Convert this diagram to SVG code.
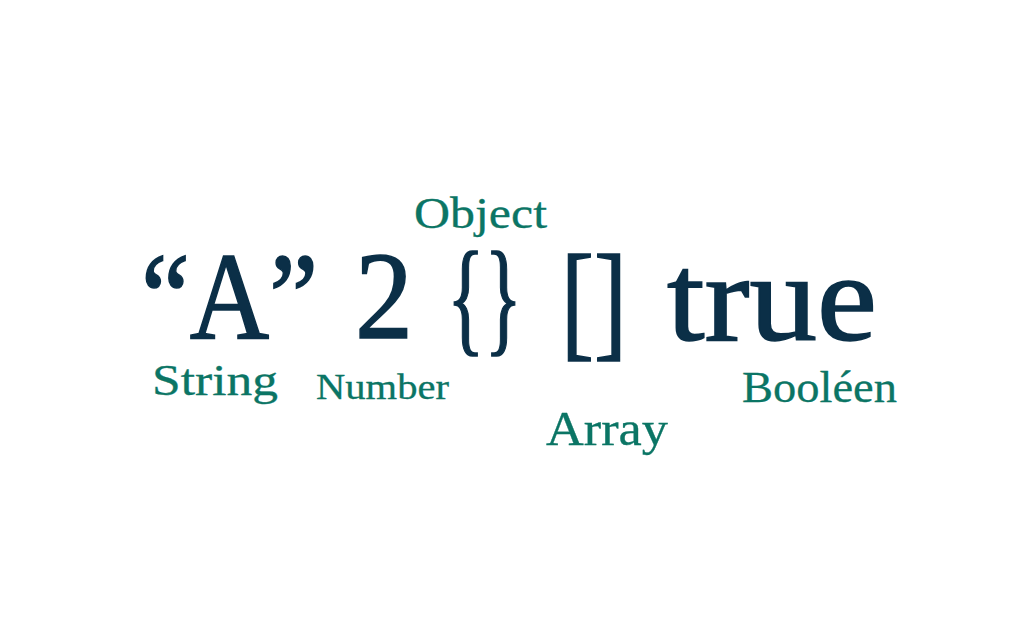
<svg xmlns="http://www.w3.org/2000/svg" width="1017" height="636" viewBox="0 0 1017 636">
<style>
.main{font-family:"Liberation Serif","DejaVu Serif",serif;fill:#0b2f47;stroke:#0b2f47;stroke-width:1.6;}
.lbl{font-family:"Liberation Serif","DejaVu Serif",serif;fill:#0b7565;stroke:#0b7565;stroke-width:0.3;}
</style>
<rect width="1017" height="636" fill="#ffffff"/>
<g id="values">
<text id="v-string" class="main" x="141" y="339" font-size="124" textLength="177" lengthAdjust="spacingAndGlyphs">“A”</text>
<text id="v-number" class="main" x="355" y="338" font-size="124" textLength="58" lengthAdjust="spacingAndGlyphs">2</text>
<text id="v-object" class="main" x="447" y="339" font-size="127" textLength="75" lengthAdjust="spacingAndGlyphs">{}</text>
<text id="v-array" class="main" x="561" y="344" font-size="130" textLength="66" lengthAdjust="spacingAndGlyphs">[]</text>
<text id="v-bool" class="main" x="667" y="340" font-size="124" textLength="210" lengthAdjust="spacingAndGlyphs">true</text>
</g>
<g id="labels">
<text id="l-object" class="lbl" x="414" y="228" font-size="45" textLength="133" lengthAdjust="spacingAndGlyphs">Object</text>
<text id="l-string" class="lbl" x="152" y="395" font-size="44" textLength="126" lengthAdjust="spacingAndGlyphs">String</text>
<text id="l-number" class="lbl" x="316" y="399" font-size="36" textLength="133" lengthAdjust="spacingAndGlyphs">Number</text>
<text id="l-array" class="lbl" x="546" y="445" font-size="48" textLength="122" lengthAdjust="spacingAndGlyphs">Array</text>
<text id="l-bool" class="lbl" x="742" y="402" font-size="45" textLength="155" lengthAdjust="spacingAndGlyphs">Booléen</text>
</g>
</svg>
